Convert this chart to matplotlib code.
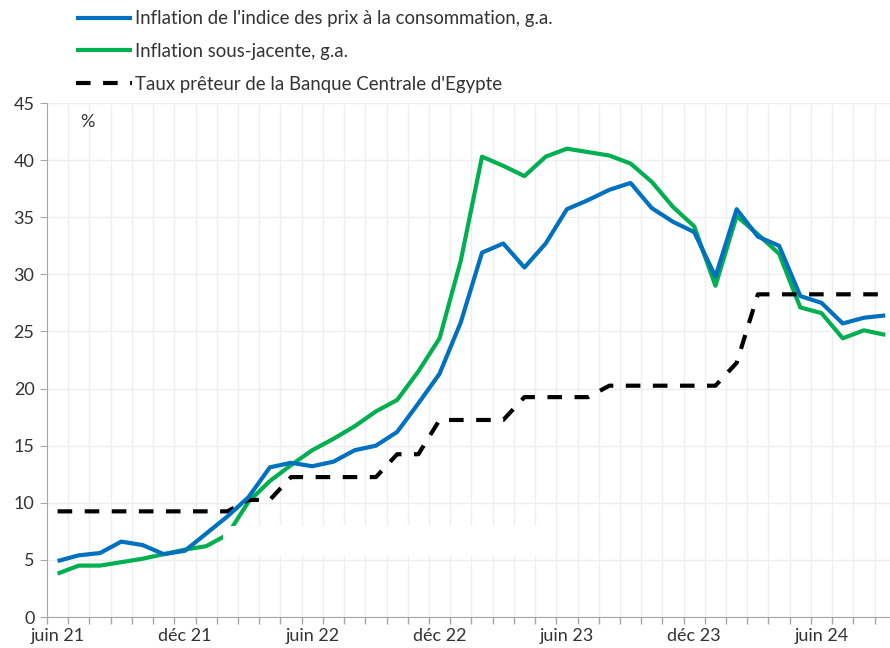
import numpy as np
import matplotlib
matplotlib.use("Agg")
import matplotlib.pyplot as plt
from matplotlib.patches import Rectangle

plt.rcParams['font.family'] = ['Lato', 'DejaVu Sans']

# mois : juin 21 -> sept 24
mois = ["juin 21", "juil 21", "août 21", "sept 21", "oct 21", "nov 21", "déc 21",
        "janv 22", "févr 22", "mars 22", "avr 22", "mai 22", "juin 22", "juil 22",
        "août 22", "sept 22", "oct 22", "nov 22", "déc 22", "janv 23", "févr 23",
        "mars 23", "avr 23", "mai 23", "juin 23", "juil 23", "août 23", "sept 23",
        "oct 23", "nov 23", "déc 23", "janv 24", "févr 24", "mars 24", "avr 24",
        "mai 24", "juin 24", "juil 24", "août 24", "sept 24"]

ipc = [4.9, 5.4, 5.6, 6.6, 6.3, 5.5, 5.8, 7.3, 8.8, 10.5,
       13.1, 13.5, 13.2, 13.6, 14.6, 15.0, 16.2, 18.7, 21.3, 25.8,
       31.9, 32.7, 30.6, 32.7, 35.7, 36.5, 37.4, 38.0, 35.8, 34.6,
       33.7, 29.8, 35.7, 33.3, 32.5, 28.1, 27.5, 25.7, 26.2, 26.4]

sous_jacente = [3.8, 4.5, 4.5, 4.8, 5.1, 5.5, 5.9, 6.2, 7.2, 10.1,
                11.9, 13.3, 14.6, 15.6, 16.7, 18.0, 19.0, 21.5, 24.4, 31.2,
                40.3, 39.5, 38.6, 40.3, 41.0, 40.7, 40.4, 39.7, 38.1, 35.9,
                34.2, 29.0, 35.1, 33.5, 31.8, 27.1, 26.6, 24.4, 25.1, 24.7]

taux = [9.25, 9.25, 9.25, 9.25, 9.25, 9.25, 9.25, 9.25, 9.25, 10.25,
        10.25, 12.25, 12.25, 12.25, 12.25, 12.25, 14.25, 14.25, 17.25, 17.25,
        17.25, 17.25, 19.25, 19.25, 19.25, 19.25, 20.25, 20.25, 20.25, 20.25,
        20.25, 20.25, 22.25, 28.25, 28.25, 28.25, 28.25, 28.25, 28.25, 28.25]

labels = ["Inflation de l'indice des prix à la consommation, g.a.",
          "Inflation sous-jacente, g.a.",
          "Taux prêteur de la Banque Centrale d'Egypte"]

x = np.arange(len(mois))

fig = plt.figure(figsize=(8.9, 6.48), dpi=100)
ax = fig.add_axes([47/890, 31/648, 848.8/890, 514/648])

l1, = ax.plot(x, ipc, color="#0070C0", lw=3, zorder=4, solid_capstyle="butt")
l2, = ax.plot(x, sous_jacente, color="#00B050", lw=3, zorder=2, solid_capstyle="butt")
l3, = ax.plot(x, taux, color="black", lw=3, linestyle=(0, (3.5, 3)), zorder=3)

# cadre blanc (zone masquée dans l'original)
ax.add_patch(Rectangle((7.8, 5.35), 15.25, 2.62, facecolor="white",
                       edgecolor="none", zorder=2.5))

ax.set_xlim(-0.5, len(mois) - 0.5)
ax.set_ylim(0, 45)
ax.set_yticks(np.arange(0, 46, 5))

ax.set_xticks(x[::6])
ax.set_xticklabels(mois[::6])
ax.set_xticks(np.arange(-0.5, len(mois), 1), minor=True)
ax.tick_params(axis="x", which="major", length=0, pad=8, labelsize=13, labelcolor="#333333")
ax.tick_params(axis="x", which="minor", length=5, color="#a6a6a6", width=1)
ax.tick_params(axis="y", length=5, color="#a6a6a6", labelsize=13, labelcolor="#333333", pad=4)

ax.grid(axis="x", which="minor", color="#efefef", lw=1)
ax.grid(axis="y", which="major", color="#efefef", lw=1)
ax.set_axisbelow(True)

for s in ["top", "right"]:
    ax.spines[s].set_visible(False)
ax.spines["left"].set_color("#a6a6a6")
ax.spines["bottom"].set_color("#a6a6a6")

ax.text(0.048, 0.963, "%", transform=ax.transAxes, ha="center", va="center",
        fontsize=13, color="#333333")

fig.legend([l1, l2, l3], labels, loc="upper left", bbox_to_anchor=(59/890, 1.01),
           frameon=False, fontsize=13.4, handlelength=3.0, handletextpad=0.2,
           labelspacing=0.84, labelcolor="#333333")

fig.savefig("out.png", dpi=100)
